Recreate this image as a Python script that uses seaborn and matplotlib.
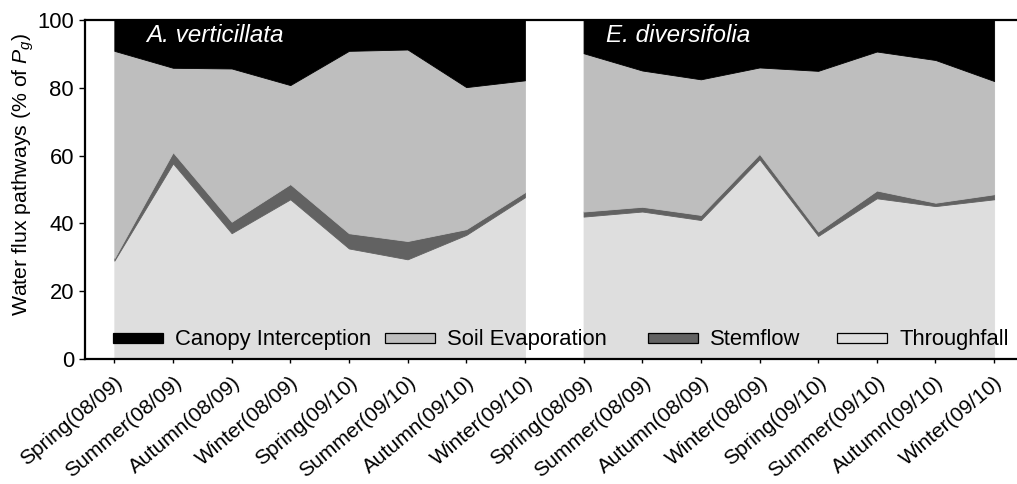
import numpy as np
import matplotlib
matplotlib.use("Agg")
import matplotlib.pyplot as plt
from matplotlib.patches import Rectangle
import seaborn as sns

# Seasons on the x axis (same sequence for both species)
seasons = ["Spring(08/09)", "Summer(08/09)", "Autumn(08/09)", "Winter(08/09)",
           "Spring(09/10)", "Summer(09/10)", "Autumn(09/10)", "Winter(09/10)"]
species = ["A. verticillata", "E. diversifolia"]
pathways = ["Canopy Interception", "Soil Evaporation", "Stemflow", "Throughfall"]

# Water flux pathways, % of gross precipitation (Pg)
throughfall_av = [29.0, 57.7, 37.1, 47.1, 32.6, 29.4, 36.6, 47.7]
stemflow_av = [0.7, 3.3, 3.4, 4.5, 4.5, 5.4, 1.7, 1.5]
soil_evap_av = [61.2, 24.9, 45.2, 29.2, 53.8, 56.5, 41.9, 33.0]
canopy_int_av = [9.1, 14.1, 14.3, 19.2, 9.1, 8.7, 19.8, 17.8]

throughfall_ed = [42.0, 43.5, 41.0, 58.9, 36.3, 47.4, 45.1, 47.1]
stemflow_ed = [1.5, 1.4, 1.5, 1.6, 1.3, 2.3, 1.0, 1.5]
soil_evap_ed = [46.7, 40.2, 40.0, 25.5, 47.4, 41.0, 42.1, 33.4]
canopy_int_ed = [9.8, 14.9, 17.5, 14.0, 15.0, 9.3, 11.8, 18.0]

sns.set_theme(style="ticks")
plt.rcParams["font.family"] = ["Liberation Sans", "DejaVu Sans"]
plt.rcParams["mathtext.fontset"] = "custom"
plt.rcParams["mathtext.rm"] = "Liberation Sans"
plt.rcParams["mathtext.it"] = "Liberation Sans:italic"

W, H = 1017, 484
fig = plt.figure(figsize=(W / 100, H / 100), dpi=100)
ax = fig.add_axes([85 / W, 125 / H, 932 / W, 339 / H])

# layer colours, bottom to top: throughfall, stemflow, soil evaporation, canopy interception
layer_colors = ["#dedede", "#626262", "#bebebe", "#000000"]
groups = [
    (throughfall_av, stemflow_av, soil_evap_av, canopy_int_av),
    (throughfall_ed, stemflow_ed, soil_evap_ed, canopy_int_ed),
]

n = len(seasons)
for g, layers in enumerate(groups):
    x = np.arange(n) + g * n
    base = np.zeros(n)
    for vals, col in zip(layers, layer_colors):
        top = base + np.asarray(vals)
        ax.fill_between(x, base, top, facecolor=col, edgecolor=col, linewidth=0.6)
        base = top

ax.set_xlim(-0.5, 15.39)
ax.set_ylim(0, 100)
ax.set_yticks(np.arange(0, 101, 20))
ax.set_xticks(np.arange(2 * n))
ax.set_xticklabels(seasons * 2, rotation=40, ha="right", rotation_mode="anchor")

for side in ["left", "bottom", "top"]:
    ax.spines[side].set_linewidth(1.6)
    ax.spines[side].set_color("black")
ax.spines["right"].set_visible(False)

ax.tick_params(axis="y", direction="out", length=4, width=1, colors="black",
               labelsize=15.8, pad=4)
ax.tick_params(axis="x", direction="out", length=3, width=1, colors="black",
               labelsize=15, pad=7)

ax.set_ylabel("Water flux pathways (% of $P_g$)", fontsize=15.3, color="black")
ax.yaxis.set_label_coords(-0.0526, 0.546)

# species names inside the panels
fig.text(146 / W, 1 - 42.3 / H, species[0], style="italic", color="white",
         fontsize=17.5, va="baseline")
fig.text(606 / W, 1 - 42.3 / H, species[1], style="italic", color="white",
         fontsize=17.5, va="baseline")

# legend row along the bottom of the plot area
legend_colors = ["#000000", "#bebebe", "#626262", "#dedede"]
legend_x = [113, 385, 648, 837]
for label, col, xp in zip(pathways, legend_colors, legend_x):
    fig.add_artist(Rectangle((xp / W, 1 - 343 / H), 50 / W, 10 / H,
                             transform=fig.transFigure, facecolor=col,
                             edgecolor="black", linewidth=0.9))
    fig.text((xp + 62) / W, 1 - 345 / H, label, fontsize=15.8, va="baseline",
             color="black")

fig.savefig("out.png", dpi=100)
